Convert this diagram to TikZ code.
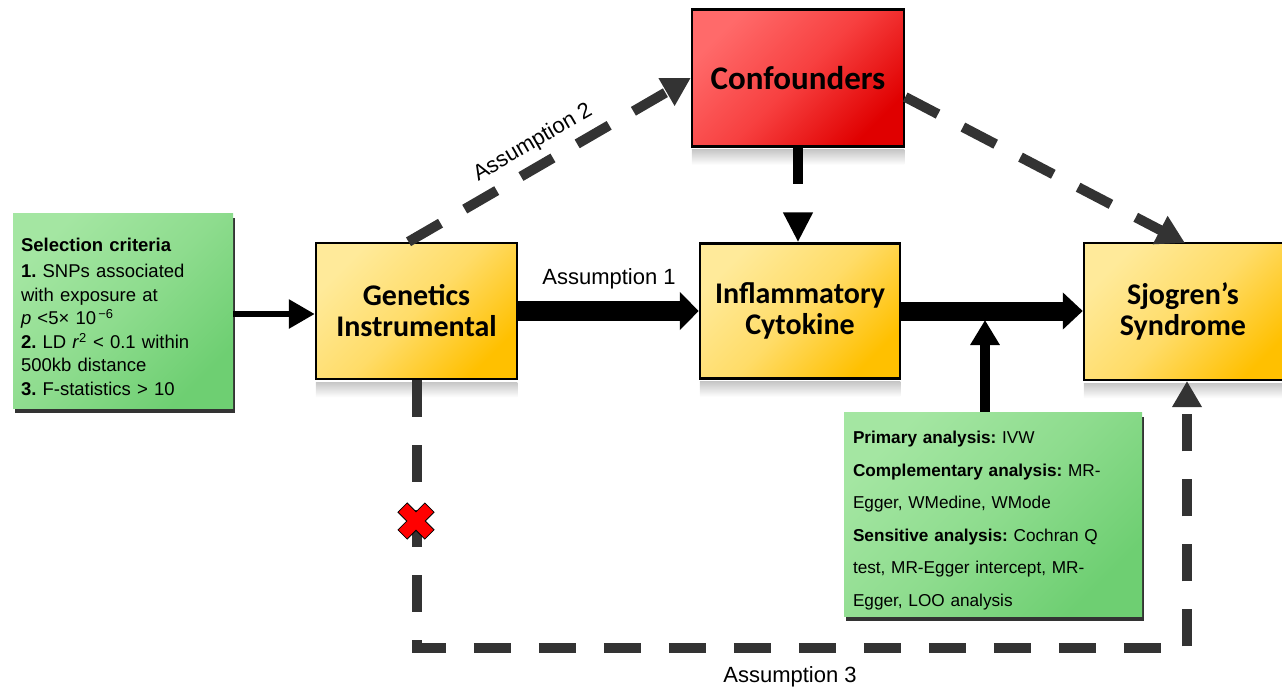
\documentclass[tikz,border=0pt]{standalone}
\usepackage{fontspec}
\setmainfont{Liberation Sans}
\newfontfamily\calib{Carlito}
\usetikzlibrary{arrows.meta,calc,shadows}
\definecolor{dk}{HTML}{333333}
\definecolor{yA}{HTML}{FFEA9A}
\definecolor{yB}{HTML}{FFDC68}
\definecolor{yC}{HTML}{FFC000}
\definecolor{rA}{HTML}{FF6A6A}
\definecolor{rB}{HTML}{F74040}
\definecolor{rC}{HTML}{E00000}
\definecolor{gA}{HTML}{A4E6A2}
\definecolor{gB}{HTML}{8EDC8E}
\definecolor{gC}{HTML}{6ECF72}
\frenchspacing
\begin{document}
\begin{tikzpicture}[x=1pt,y=-1pt,
  ybox/.style={draw=black, line width=2.5pt, top color=yA, bottom color=yC, middle color=yB, shading angle=45,
     align=center, inner sep=0pt, font=\calib\bfseries\fontsize{30}{31}\selectfont},
  rbox/.style={draw=black, line width=2.5pt, top color=rA, bottom color=rC, middle color=rB, shading angle=45,
     align=center, inner sep=0pt, font=\calib\bfseries\fontsize{33}{34}\selectfont},
  gbox/.style={top color=gA, bottom color=gC, middle color=gB, shading angle=45, align=left,
     drop shadow={shadow xshift=2pt, shadow yshift=-5pt, fill=black!80, opacity=1}},
  refl/.style={top color=black!22, bottom color=white, draw=none},
  lab/.style={font=\fontsize{22}{24}\selectfont, inner sep=0pt},
  solidarr/.style={draw=black, line width=#1},
  dasharr/.style={draw=dk, line width=10pt, dash pattern=on 37pt off 28pt, -{Triangle[length=28pt,width=30pt]}, color=dk},
]
\useasboundingbox (0,0) rectangle (1282,689);

% boxes
\node[gbox, minimum width=220pt, minimum height=195pt, text width=204pt, inner sep=8pt,
      font=\fontsize{18.5}{23.5}\selectfont] (sel) at (123,310.5)
 {\rule{0pt}{26pt}\textbf{Selection criteria}\\[3pt]
  \textbf{1.} SNPs associated\\
  with exposure at\\
  \textit{p} <5\texttimes\ 10\textsuperscript{\,−6}\\
  \textbf{2.} LD \textit{r}\textsuperscript{2} < 0.1 within\\
  500kb distance\\
  \textbf{3.} F-statistics > 10};

\node[ybox, minimum width=201pt, minimum height=136pt] (gen) at (416.5,311) {Genetics\\Instrumental};
\node[ybox, minimum width=200pt, minimum height=135pt] (cyt) at (800,311) {Inflammatory\\Cytokine};
\node[ybox, minimum width=208pt, minimum height=137pt] (sjo) at (1188,311.5) {Sjogren’s\hspace*{10pt}\\Syndrome\hspace*{10pt}};
\node[rbox, minimum width=212pt, minimum height=137pt] (conf) at (798,78) {Confounders};

\node[gbox, minimum width=298pt, minimum height=204pt, text width=280pt, inner xsep=9pt, inner ysep=3pt,
      font=\fontsize{17.2}{32.5}\selectfont] (ana) at (993,514)
 {\rule{0pt}{26pt}\textbf{Primary analysis:} IVW\\
  \textbf{Complementary analysis:} MR-\\
  Egger, WMedine, WMode\\
  \textbf{Sensitive analysis:} Cochran Q\\
  test, MR-Egger intercept, MR-\\
  Egger, LOO analysis};

% reflections
\foreach \n in {gen,cyt,sjo,conf}{
  \fill[refl] ($(\n.south west)+(1,2)$) rectangle ($(\n.south east)+(-1,17)$);
}

% solid arrows
\draw[solidarr=6pt, -{Triangle[length=26pt,width=28pt]}] (sel.east |- 0,314) -- (gen.west |- 0,314);
\draw[solidarr=20pt, -{Triangle[length=19pt,width=37pt]}] (gen.east) -- (cyt.west);
\draw[solidarr=19pt, -{Triangle[length=20pt,width=36pt]}] (cyt.east) -- (sjo.west |- cyt.east);
\coordinate (j) at (985,320);
\draw[solidarr=9.5pt, -{Triangle[length=25pt,width=28pt]}] (ana.north -| j) -- (j);
\draw[solidarr=10pt, dash pattern=on 36pt off 29pt, -{Triangle[length=30pt,width=28pt]}] (conf.south) -- (conf.south |- cyt.north);

% dashed arrows
\draw[dasharr] ($(gen.north)+(-8,0)$) -- (conf.west);
\draw[dasharr] ($(conf.east)+(0,19)$) -- (1185,243);
\coordinate (c1) at (416.5,648);
\coordinate (c2) at (1187,648);
\coordinate (c3) at (1187,381);
\draw[dasharr, -{Triangle[length=26pt,width=28pt]}] (gen.south) -- (c1) -- (c2) -- (c3);

% labels
\node[lab] (a1) at (609,279) {Assumption 1};
\node[lab, rotate=30.2] (a2) at (533,143) {Assumption 2};
\node[lab] (a3) at (790,677) {Assumption 3};

% red cross
\draw[fill=red, draw=black, line width=0.8pt, shift={(416,521)}, rotate=45]
  (6.5,19) -- (6.5,6.5) -- (19,6.5) -- (19,-6.5) -- (6.5,-6.5) -- (6.5,-19) -- (-6.5,-19) -- (-6.5,-6.5)
  -- (-19,-6.5) -- (-19,6.5) -- (-6.5,6.5) -- (-6.5,19) -- cycle;
\end{tikzpicture}
\end{document}
